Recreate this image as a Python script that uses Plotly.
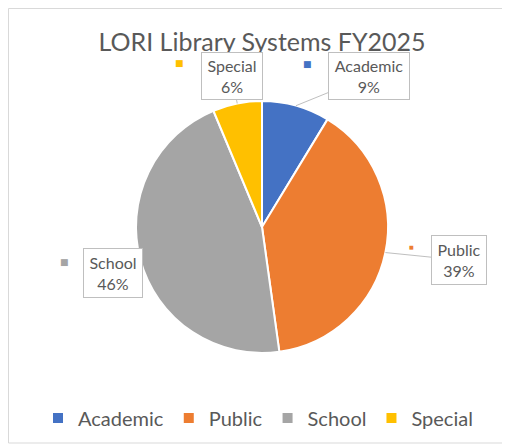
import math
import plotly.graph_objects as go

# ---- data ----
categories = ["Academic", "Public", "School", "Special"]
shares = [8.7, 39.1, 45.9, 6.3]
colors = ["#4472C4", "#ED7D31", "#A5A5A5", "#FFC000"]
title_text = "LORI Library Systems FY2025"

# ---- layout constants (page pixels; figure is drawn 8px in from the page corner) ----
OFF = 8
W, H = 502, 439
CX, CY, R = 262, 227, 126
FONT = "Lato"
GRAY = "#595959"

def px(x):
    return (x - OFF) / W

def py(y):
    return 1 - (y - OFF) / H

total = sum(shares)
pcts = [round(100 * v / total) for v in shares]

fig = go.Figure(go.Pie(
    labels=categories,
    values=shares,
    sort=False,
    direction="clockwise",
    rotation=0,
    marker=dict(colors=colors, line=dict(color="white", width=2)),
    textinfo="none",
    domain=dict(x=[px(CX - R), px(CX + R)], y=[py(CY + R), py(CY - R)]),
))

# label boxes: centre (page px) and size for each category
boxes = {
    "Academic": (369, 76, 82, 48),
    "Public": (459, 260, 56, 50),
    "School": (113, 273, 60, 50),
    "Special": (232, 76, 62, 48),
}
keys = {
    "Academic": (307, 64, 9),
    "Public": (411, 247, 5),
    "School": (64, 262, 9),
    "Special": (179, 63, 9),
}

annotations = []
cum = 0.0
for cat, val, pct, col in zip(categories, shares, pcts, colors):
    mid = (cum + val / 2) / total * 2 * math.pi
    cum += val
    ex = CX + R * math.sin(mid)
    ey = CY - R * math.cos(mid)
    bx, by, bw, bh = boxes[cat]
    annotations.append(dict(
        x=px(ex), y=py(ey), xref="paper", yref="paper",
        text=f"{cat}<br>{pct}%",
        showarrow=True, arrowhead=0, arrowwidth=1, arrowcolor="#BFBFBF",
        ax=bx - ex, ay=by - ey,
        width=bw - 2, height=bh - 2, borderpad=0,
        bordercolor="#BFBFBF", borderwidth=1, bgcolor="white",
        font=dict(family=FONT, size=16, color=GRAY),
        align="center", valign="middle",
    ))
    kx, ky, ks = keys[cat]
    annotations.append(dict(
        x=px(kx), y=py(ky), xref="paper", yref="paper",
        text="■", showarrow=False,
        font=dict(family="DejaVu Sans", size=ks, color=col),
        xanchor="center", yanchor="middle",
    ))

fig.update_layout(
    width=W, height=H,
    margin=dict(l=0, r=0, t=0, b=0),
    paper_bgcolor="white",
    title=dict(text=title_text, x=px(262), xanchor="center",
               y=py(42), yanchor="middle",
               font=dict(family=FONT, size=25, color=GRAY)),
    legend=dict(orientation="h", x=px(258), xanchor="center",
                y=py(418), yanchor="middle",
                font=dict(family=FONT, size=20, color=GRAY),
                itemwidth=30, tracegroupgap=0),
    annotations=annotations,
    shapes=[dict(type="rect", xref="paper", yref="paper",
                 x0=px(8.5), x1=px(W + 20), y0=py(443), y1=py(8.5),
                 line=dict(color="#D9D9D9", width=1))],
)

fig.write_html("out.html")
